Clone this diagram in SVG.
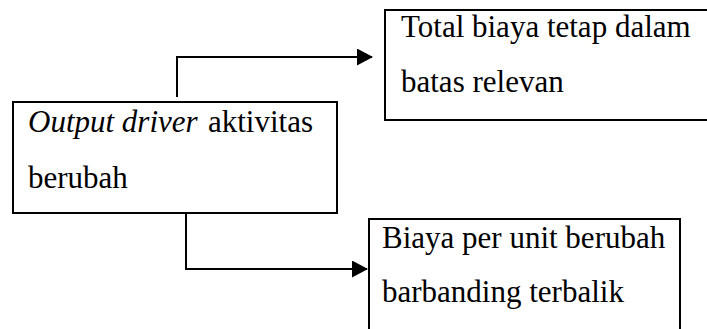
<svg xmlns="http://www.w3.org/2000/svg" width="707" height="329" viewBox="0 0 707 329">
<style>
.box{fill:#fff;stroke:#000;stroke-width:2}
.t{font-family:"Times New Roman","Liberation Serif","DejaVu Serif",serif;font-size:31px;fill:#000}
.c{fill:none;stroke:#000;stroke-width:2}
</style>
<defs>
<marker id="ah" markerWidth="16" markerHeight="17" refX="15" refY="8.5" orient="auto" markerUnits="userSpaceOnUse">
<path d="M0,0 L16,8.5 L0,17 Z" fill="#000"/>
</marker>
</defs>
<rect width="707" height="329" fill="#fff"/>
<g id="connectors">
<path class="c" d="M177,97 V57 H372" marker-end="url(#ah)"/>
<path class="c" d="M186,213 V269 H367" marker-end="url(#ah)"/>
</g>
<g id="n1">
<rect class="box" x="13" y="102" width="324" height="111"/>
<text class="t" x="28" y="132"><tspan font-style="italic">Output driver </tspan><tspan x="208">aktivitas</tspan></text>
<text class="t" x="28" y="188">berubah</text>
</g>
<g id="n2">
<rect class="box" x="385" y="10" width="330" height="110"/>
<text class="t" x="401" y="37">Total biaya tetap dalam</text>
<text class="t" x="401" y="92">batas relevan</text>
</g>
<g id="n3">
<rect class="box" x="369" y="219" width="311" height="120"/>
<text class="t" x="382" y="248">Biaya per unit berubah</text>
<text class="t" x="382" y="302">barbanding terbalik</text>
</g>
</svg>
